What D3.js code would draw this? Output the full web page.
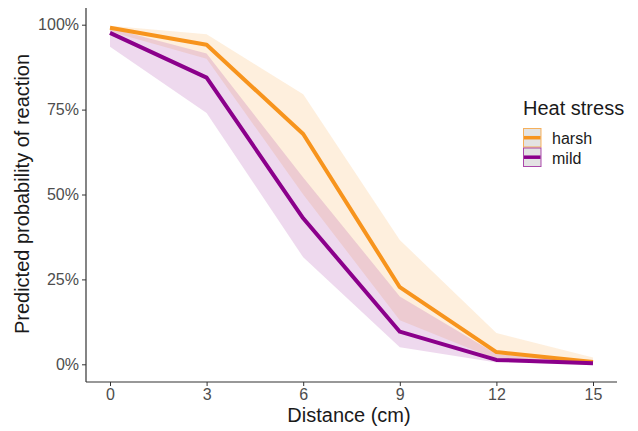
<!DOCTYPE html>
<html>
<head>
<meta charset="utf-8">
<script src="https://cdn.jsdelivr.net/npm/d3@7"></script>
<style>
  body { margin: 0; background: #fff; }
  text { font-family: "Liberation Sans", Arial, sans-serif; }
</style>
</head>
<body>
<div id="chart"></div>
<script>
// distance levels (cm)
var distance = [0, 3, 6, 9, 12, 15];
// predicted probability + ribbon bounds
var harsh_fit = [0.991, 0.941, 0.678, 0.227, 0.036, 0.007];
var harsh_lo  = [0.980, 0.900, 0.500, 0.130, 0.015, 0.002];
var harsh_hi  = [0.997, 0.972, 0.795, 0.366, 0.092, 0.020];
var mild_fit  = [0.976, 0.844, 0.430, 0.096, 0.013, 0.003];
var mild_lo   = [0.935, 0.740, 0.315, 0.050, 0.005, 0.001];
var mild_hi   = [0.990, 0.915, 0.550, 0.200, 0.030, 0.008];
var series_names = ['harsh', 'mild'];
var series_colors = ['#f7941d', '#8b008b'];
var y_ticks = [0, 0.25, 0.5, 0.75, 1];

var width = 638, height = 431;
var svg = d3.select('#chart').append('svg')
    .attr('width', width)
    .attr('height', height);

var x = d3.scaleLinear().domain([0, 15]).range([110, 593]);
var y = d3.scaleLinear().domain([0, 1]).range([364.3, 24.7]);

var series = [
    {name: series_names[0], fit: harsh_fit, lo: harsh_lo, hi: harsh_hi, color: series_colors[0]},
    {name: series_names[1], fit: mild_fit, lo: mild_lo, hi: mild_hi, color: series_colors[1]}
];

var area = d3.area()
    .x(function(d) { return x(d.x); })
    .y0(function(d) { return y(d.lo); })
    .y1(function(d) { return y(d.hi); });

var line = d3.line()
    .x(function(d) { return x(d.x); })
    .y(function(d) { return y(d.y); });

// ribbons first, then lines
series.forEach(function(s) {
    var pts = distance.map(function(v, i) { return {x: v, lo: s.lo[i], hi: s.hi[i]}; });
    svg.append('path')
        .attr('d', area(pts))
        .attr('fill', s.color)
        .attr('fill-opacity', 0.15);
});
series.forEach(function(s) {
    var pts = distance.map(function(v, i) { return {x: v, y: s.fit[i]}; });
    svg.append('path')
        .attr('d', line(pts))
        .attr('fill', 'none')
        .attr('stroke', s.color)
        .attr('stroke-width', 4)
        .attr('stroke-linejoin', 'round');
});

// axes
var xAxis = svg.append('g')
    .attr('transform', 'translate(0,382)')
    .call(d3.axisBottom(x).tickValues(distance).tickSize(4).tickPadding(3));
xAxis.select('.domain').attr('d', 'M86,0H617').attr('stroke', '#333').attr('stroke-width', 1.2);

var yAxis = svg.append('g')
    .attr('transform', 'translate(86,0)')
    .call(d3.axisLeft(y).tickValues(y_ticks).tickFormat(d3.format('.0%')).tickSize(4).tickPadding(3));
yAxis.select('.domain').attr('d', 'M0,8V382').attr('stroke', '#333').attr('stroke-width', 1.2);

svg.selectAll('.tick line').attr('stroke', '#333');
svg.selectAll('.tick text')
    .attr('fill', '#4d4d4d')
    .style('font-size', '16px')
    .style('font-family', '"Liberation Sans", Arial, sans-serif');

// axis titles
svg.append('text')
    .attr('x', 349).attr('y', 422)
    .attr('text-anchor', 'middle')
    .attr('fill', '#1a1a1a')
    .style('font-size', '20px')
    .text('Distance (cm)');

svg.append('text')
    .attr('transform', 'translate(29,194) rotate(-90)')
    .attr('text-anchor', 'middle')
    .attr('fill', '#1a1a1a')
    .style('font-size', '20px')
    .text('Predicted probability of reaction');

// legend
var legend = svg.append('g').attr('transform', 'translate(523,0)');
legend.append('text')
    .attr('x', 0).attr('y', 115)
    .attr('fill', '#1a1a1a')
    .style('font-size', '20px')
    .text('Heat stress');

series.forEach(function(s, i) {
    var g = legend.append('g').attr('transform', 'translate(0,' + (128 + i * 19.5) + ')');
    g.append('rect')
        .attr('x', 0.5).attr('y', 0.5)
        .attr('width', 17.5).attr('height', 18.5)
        .attr('fill', '#e3e3e3')
        .attr('stroke', s.color)
        .attr('stroke-opacity', 0.7);
    g.append('line')
        .attr('x1', 1).attr('x2', 17.5)
        .attr('y1', 9.7).attr('y2', 9.7)
        .attr('stroke', s.color)
        .attr('stroke-width', 3.5);
    g.append('text')
        .attr('x', 29).attr('y', 16)
        .attr('fill', '#1a1a1a')
        .style('font-size', '16px')
        .text(s.name);
});
</script>
</body>
</html>
